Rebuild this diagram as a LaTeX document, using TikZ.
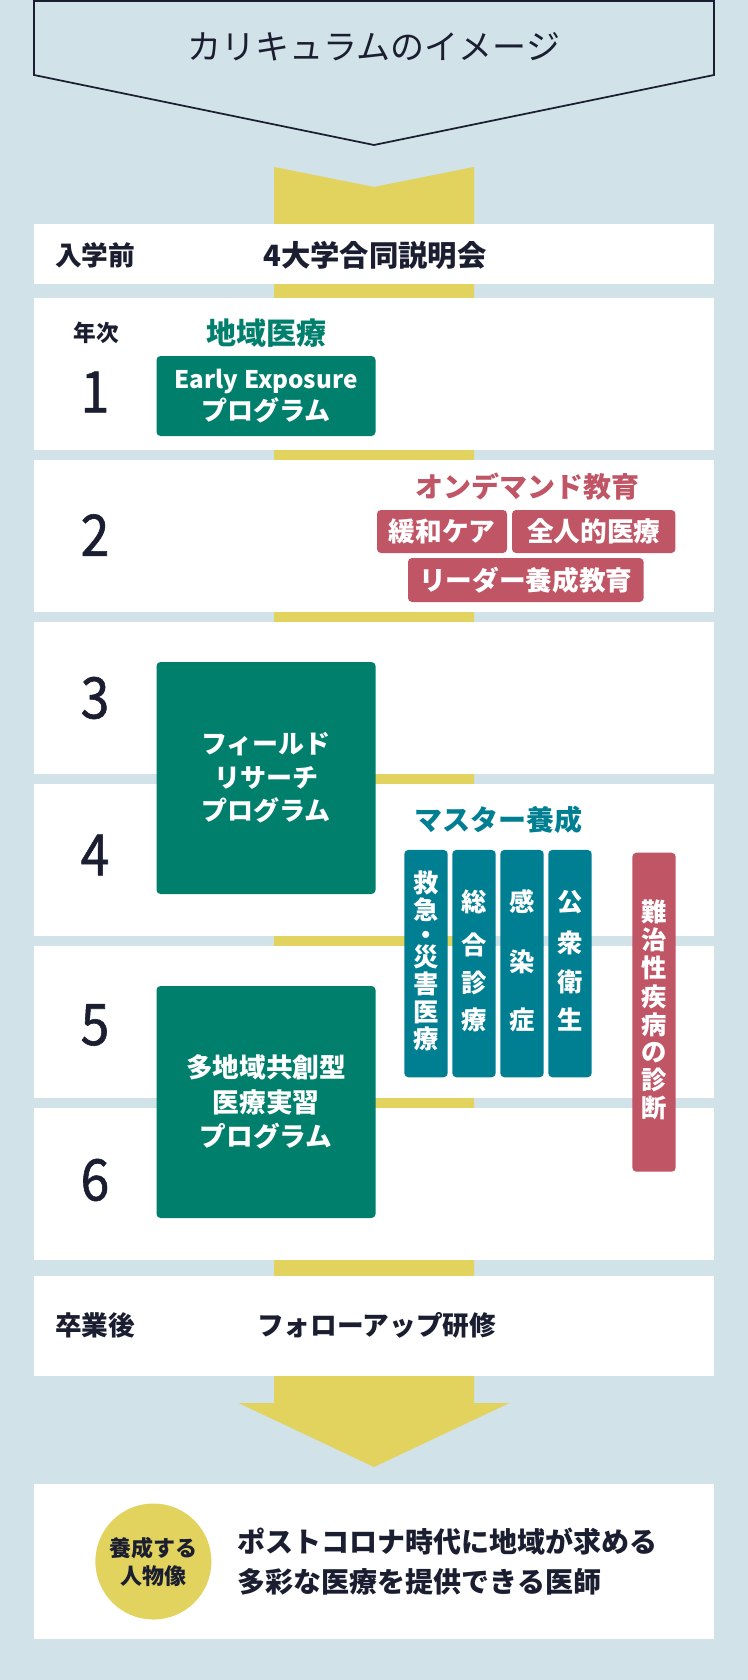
\documentclass[tikz,border=0pt]{standalone}
\usepackage{fontspec}
\usetikzlibrary{positioning}
\setmainfont{Noto Sans CJK JP}
\newfontfamily\numfont{Noto Sans CJK JP}[FakeStretch=0.9, FakeBold=1]

\definecolor{cbg}{RGB}{209,226,233}
\definecolor{cyellow}{RGB}{226,211,94}
\definecolor{cgreen}{RGB}{0,127,108}
\definecolor{cteal}{RGB}{0,127,147}
\definecolor{crose}{RGB}{192,85,102}
\definecolor{cdark}{RGB}{27,30,48}

\tikzset{
  rowbox/.style={fill=white, minimum width=510pt, inner sep=0pt},
  rowlabel/.style={text=cdark, font=\bfseries\fontsize{20}{24}\selectfont, inner sep=0pt},
  yearnum/.style={text=cdark, font=\numfont\fontsize{43}{43}\selectfont, inner sep=0pt},
  greenbox/.style={fill=cgreen, rounded corners=3pt, text=white, align=center, minimum width=164.25pt, inner sep=0pt},
  rosebox/.style={fill=crose, rounded corners=3pt, text=white, font=\bfseries\fontsize{20}{24}\selectfont, inner sep=0pt},
  vbox/.style={rounded corners=3pt, minimum width=32.5pt, inner sep=0pt},
  vchar/.style={text=white, font=\bfseries\fontsize{19}{19}\selectfont, inner sep=0pt},
  headtext/.style={font=\bfseries\fontsize{21}{24}\selectfont, inner sep=0pt}
}

\begin{document}
\begin{tikzpicture}[x=0.75pt,y=-0.75pt]

\fill[cbg] (0,0) rectangle (748,1680);
\useasboundingbox (0,0) rectangle (748,1680);

% title
\draw[cdark, line width=1.3pt, fill=cbg] (34,1) -- (714,1) -- (714,75) -- (374,145) -- (34,75) -- cycle;
\node (title) [text=cdark, font=\fontsize{25.5}{30}\selectfont, inner sep=0pt] at (374,47) {カリキュラムのイメージ};

% yellow band
\fill[cyellow] (274,167) -- (374,187) -- (474,167) -- (474,1403) -- (509.5,1403) -- (374,1467) -- (238.5,1403) -- (274,1403) -- cycle;

% rows
\node (pre) [rowbox, minimum height=45pt] at (374,254) {};
\foreach \k in {1,...,6}
  \node (row\k) [rowbox, minimum height=114pt] at (374,{374+162*(\k-1)}) {};
\node (post) [rowbox, minimum height=75pt] at (374,1326) {};
\node (goal) [rowbox, minimum height=116.25pt] at (374,1561.5) {};

\node (prelabel) [rowlabel, anchor=west] at (55,255) {入学前};
\node (session) [rowlabel, anchor=west, font=\bfseries\fontsize{22}{24}\selectfont] at (263,255) {4大学合同説明会};

\node (nenji) [rowlabel, font=\bfseries\fontsize{17}{20}\selectfont] at (96,333) {年次};
\foreach \k/\yy in {1/392,2/535,3/698,4/855,5/1025,6/1180}
  \node (yr\k) [yearnum] at (95,\yy) {\k};

% year 1
\node (chiiki) [headtext, text=cgreen, font=\bfseries\fontsize{22.5}{24}\selectfont] at (266,333) {地域医療};
\node (early) [greenbox, minimum height=60pt, font=\bfseries\fontsize{19.5}{24}\selectfont] at (266,396) {{\fontsize{18.2}{24}\selectfont Early Exposure}\\プログラム};

% year 2
\node (ondemand) [headtext, text=crose] at (527,487) {オンデマンド教育};
\node (kanwa) [rosebox, minimum width=97.5pt, minimum height=32.25pt] at (442,531.5) {緩和ケア};
\node (zenjin) [rosebox, minimum width=122.6pt, minimum height=32.25pt] at (593.75,531.5) {全人的医療};
\node (leader) [rosebox, minimum width=176.7pt, minimum height=33pt] at (525.8,580) {リーダー養成教育};

% years 3-6
\node (field) [greenbox, minimum height=174pt, font=\bfseries\fontsize{19.5}{25}\selectfont] at (266,778) {フィールド\\リサーチ\\プログラム};
\node (tachiiki) [greenbox, minimum height=174pt, font=\bfseries\fontsize{20}{26}\selectfont] at (266,1102) {多地域共創型\\医療実習\\プログラム};

\node (master) [headtext, text=cteal] at (498.5,820) {マスター養成};
\foreach \xx [count=\i] in {426,474,522,570}
  \node (m\i) [vbox, fill=cteal, minimum height=170.5pt] at (\xx,963.6) {};
\node (ma) [vchar, align=center, font=\bfseries\fontsize{19}{20.5}\selectfont] at (426,961) {救\\急\\[-2pt]・\\[-4pt]災\\害\\医\\療};
\foreach \c/\yy [count=\i] in {総/902,合/945,診/983,療/1020}
  \node (mb\i) [vchar] at (474,\yy) {\c};
\foreach \c/\yy [count=\i] in {感/902,染/962,症/1020}
  \node (mc\i) [vchar] at (522,\yy) {\c};
\foreach \c/\yy [count=\i] in {公/902,衆/943,衛/982,生/1020}
  \node (md\i) [vchar] at (570,\yy) {\c};

\node (nanchi) [vbox, fill=crose, minimum height=239.25pt] at (654,1012.2) {};
\foreach \c/\yy [count=\i] in {難/912,治/940,性/968,疾/997,病/1025,の/1053,診/1080,断/1108}
  \node (n\i) [vchar] at (654,\yy) {\c};

% after graduation
\node (postlabel) [rowlabel, anchor=west] at (55,1325) {卒業後};
\node (followup) [rowlabel, anchor=west] at (257,1325) {フォローアップ研修};

% goal
\node (person) [circle, fill=cyellow, minimum size=87pt, inner sep=0pt, align=center, text=cdark, font=\bfseries\fontsize{16.5}{21}\selectfont] at (153.4,1561.5) {養成する\\人物像};
\node (vision) [right=19.5pt of person, align=left, inner sep=0pt, text=cdark, font=\bfseries\fontsize{21}{30}\selectfont] {ポストコロナ時代に地域が求める\\多彩な医療を提供できる医師};

\end{tikzpicture}
\end{document}
